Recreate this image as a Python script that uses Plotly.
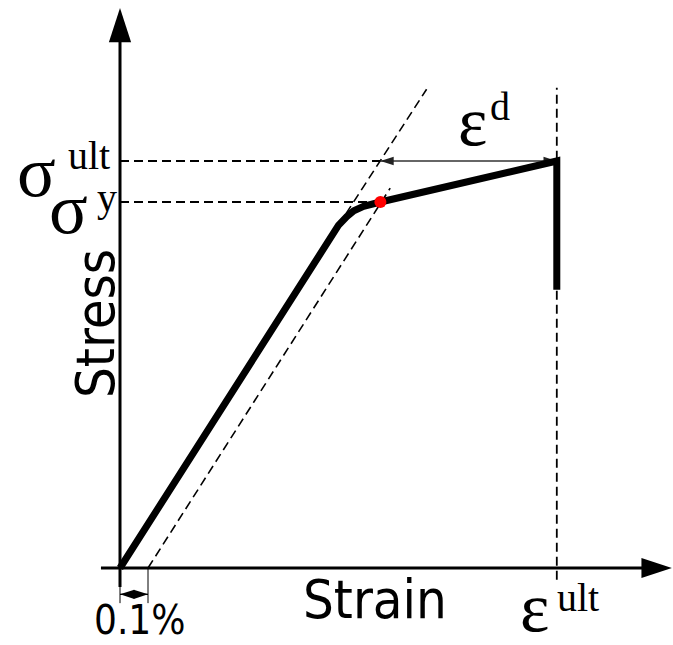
import plotly.graph_objects as go

W, H = 673, 645

# Stress-strain curve: strain in %, stress in MPa
curve_strain = [0.0, 0.78, 0.81, 0.835, 0.87, 0.93, 1.56, 1.56]
curve_stress = [0.0, 234, 240, 244, 247, 250, 278, 190]

# Characteristic values
sigma_y = 250        # offset yield stress
sigma_ult = 278      # ultimate stress
eps_y = 0.93         # strain at the offset yield point
eps_ult = 1.56       # ultimate strain
eps_offset = 0.1     # offset used for yield definition
eps_el_ult = 0.93    # elastic line reaching sigma_ult

# Construction lines
elastic_ext_strain = [0.78, 1.095]
elastic_ext_stress = [234, 327]
offset_strain = [0.10, 0.965]
offset_stress = [0, 259.5]
ult_guide_stress = [-8, 328]

# Axis extents (line end, arrow tip)
x_axis_strain = [-0.068, 1.93]
x_axis_tip = 1.971
y_axis_stress = [-13, 367]
y_axis_tip = 382.5

# Dimension line for the 0.1 % offset
dim_stress = -18
dim_ext_stress = [-13, -24]

# Pixel mapping of the drawing
ORIGIN_PX = (120, 568)
PX_PER_STRAIN = 280.0
PX_PER_STRESS = 1.464

x_range = [-ORIGIN_PX[0] / PX_PER_STRAIN, (W - ORIGIN_PX[0]) / PX_PER_STRAIN]
y_range = [-(H - ORIGIN_PX[1]) / PX_PER_STRESS, ORIGIN_PX[1] / PX_PER_STRESS]

BLACK = "#000000"
DASH = "9px,5px"

fig = go.Figure()


def line(xs, ys, width, dash=None, color=BLACK):
    fig.add_trace(go.Scatter(
        x=xs, y=ys, mode="lines",
        line=dict(color=color, width=width, dash=dash),
        hoverinfo="skip", showlegend=False,
    ))


def heads(xs, ys, angles, size, color=BLACK):
    fig.add_trace(go.Scatter(
        x=xs, y=ys, mode="markers",
        marker=dict(symbol="arrow", size=size, angle=angles, color=color,
                    line=dict(width=0)),
        hoverinfo="skip", showlegend=False,
    ))


# Axes with arrow heads
line(x_axis_strain, [0, 0], 3)
line([0, 0], y_axis_stress, 3)
heads([x_axis_tip], [0], [90], 32)
heads([0], [y_axis_tip], [0], 36)

# Dashed guides
line([0, eps_el_ult], [sigma_ult, sigma_ult], 1.8, DASH)
line([0, eps_y], [sigma_y, sigma_y], 1.8, DASH)
line([eps_ult, eps_ult], ult_guide_stress, 1.8, DASH)
line(elastic_ext_strain, elastic_ext_stress, 1.6, DASH)
line(offset_strain, offset_stress, 1.6, DASH)

# Ductility dimension
line([eps_el_ult, eps_ult], [sigma_ult, sigma_ult], 1.3, color="#333333")
heads([eps_el_ult, eps_ult], [sigma_ult, sigma_ult], [-90, 90], 14, "#222222")

# Offset dimension
line([0, 0], dim_ext_stress, 1)
line([eps_offset, eps_offset], [0, dim_ext_stress[1]], 1)
line([0, eps_offset], [dim_stress, dim_stress], 1.3)
heads([0, eps_offset], [dim_stress, dim_stress], [-90, 90], 15)

# Material response
line(curve_strain, curve_stress, 7)

# Yield point
fig.add_trace(go.Scatter(
    x=[eps_y], y=[sigma_y], mode="markers",
    marker=dict(symbol="circle", size=12, color="#ff0000", line=dict(width=0)),
    hoverinfo="skip", showlegend=False,
))


def label(text, px, py, size, family, angle=0):
    fig.add_annotation(
        text=text, x=px / W, y=1 - py / H, xref="paper", yref="paper",
        xanchor="center", yanchor="middle", showarrow=False, textangle=angle,
        font=dict(size=size, family=family, color=BLACK),
    )


SANS = "DejaVu Sans Condensed, DejaVu Sans, sans-serif"
SERIF = "Liberation Serif, Times New Roman, serif"

label("Stress", 95.5, 323.5, 54, SANS, -90)
label("Strain", 374.5, 599, 54, SANS)
label("0.1%", 139, 620, 40, SANS)

label("σ", 36.5, 172, 72, SERIF)
label("ult", 89, 155, 40, SERIF)
label("σ", 68.5, 209, 72, SERIF)
label("y", 106.5, 197, 40, SERIF)
label("ε", 472.5, 121, 70, SERIF)
label("d", 500, 106, 40, SERIF)
label("ε", 534.5, 607, 70, SERIF)
label("ult", 578, 597, 40, SERIF)

fig.update_layout(
    width=W, height=H, autosize=False,
    margin=dict(l=0, r=0, t=0, b=0, pad=0),
    paper_bgcolor="white", plot_bgcolor="white",
    xaxis=dict(range=x_range, visible=False, fixedrange=True),
    yaxis=dict(range=y_range, visible=False, fixedrange=True),
    hovermode=False,
)

fig.write_html("out.html")
